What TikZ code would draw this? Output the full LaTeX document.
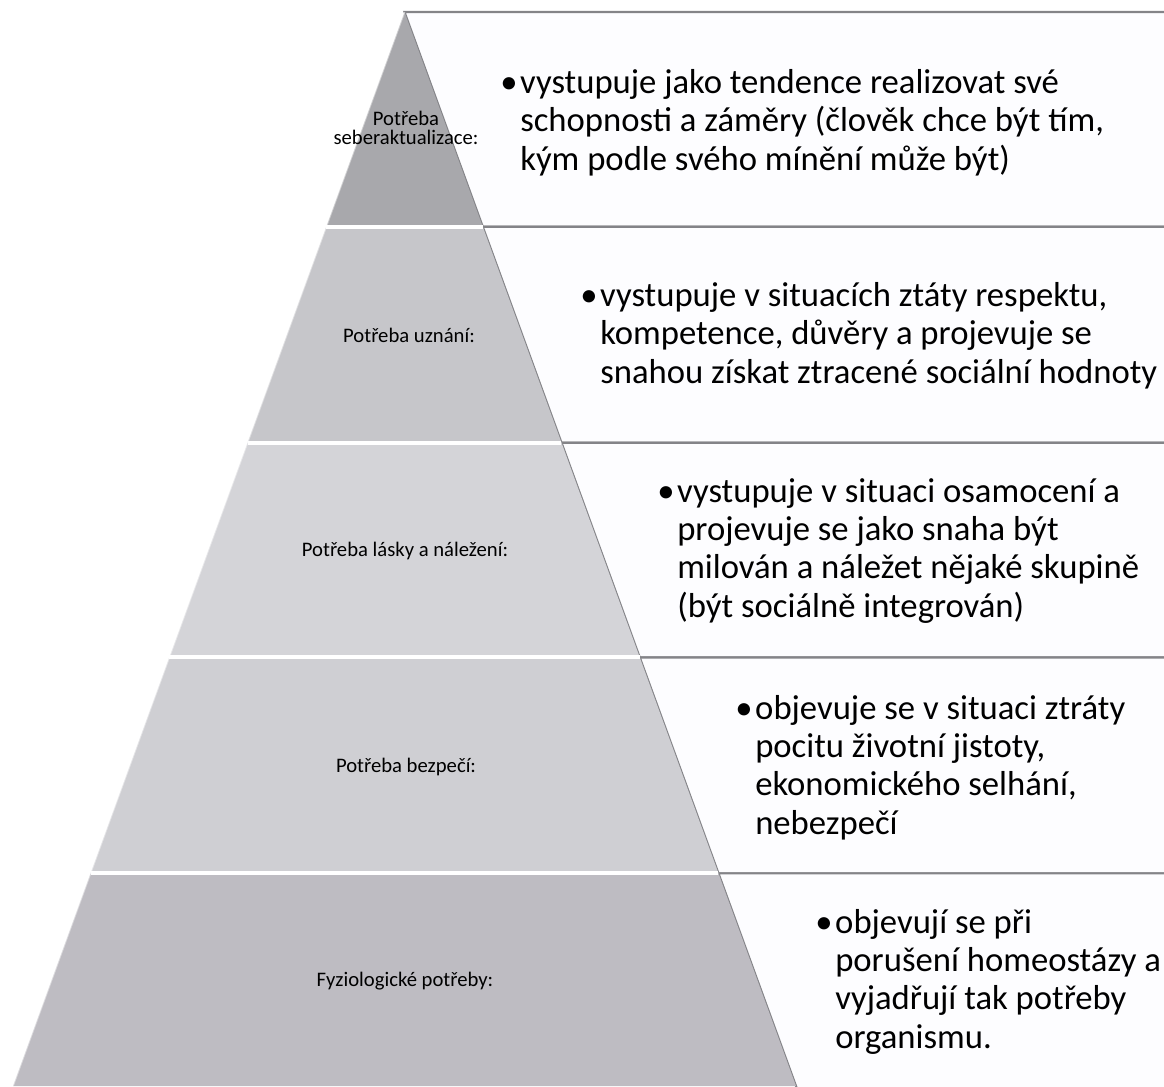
\documentclass[tikz,border=0pt]{standalone}
\usepackage{fontspec}
\setmainfont{Carlito}
\usepackage{tikz}
\usetikzlibrary{calc}
\definecolor{level-one}{RGB}{168,168,172}
\definecolor{level-two}{RGB}{198,198,202}
\definecolor{level-three}{RGB}{212,212,216}
\definecolor{level-four}{RGB}{207,207,211}
\definecolor{level-five}{RGB}{190,188,194}
\definecolor{box-line}{RGB}{132,132,136}
\definecolor{box-fill}{RGB}{253,253,255}
\tikzset{
    list-box/.style = {draw=box-line, fill=box-fill, line width=1.6pt, line join=miter},
    pyramid-gap/.style = {draw=white, line width=3pt},
    level-edge/.style = {draw=white, opacity=0.45, line width=1.2pt},
    level-label/.style = {font=\fontsize{15.5}{14.6}\selectfont, align=center, inner sep=0pt},
    list-text/.style = {font=\fontsize{26}{28.75}\selectfont, anchor=west, inner sep=0pt},
}

\begin{document}
\begin{tikzpicture}[x=0.75pt, y=-0.75pt]
\useasboundingbox (0,0) rectangle (1164,1086);
\coordinate (apex) at (404.5,12);
\coordinate (bl) at (13,1086);
\coordinate (br) at (796,1086);
\coordinate (east) at (1180,0);
\coordinate (l1) at ($(apex)!0.200!(bl)$);
\coordinate (r1) at ($(apex)!0.200!(br)$);
\coordinate (l2) at ($(apex)!0.401!(bl)$);
\coordinate (r2) at ($(apex)!0.401!(br)$);
\coordinate (l3) at ($(apex)!0.601!(bl)$);
\coordinate (r3) at ($(apex)!0.601!(br)$);
\coordinate (l4) at ($(apex)!0.802!(bl)$);
\coordinate (r4) at ($(apex)!0.802!(br)$);
\coordinate (r5) at ($(apex)!1.006!(br)$);

\draw[list-box] (apex) -- (apex -| east) -- (r1 -| east) -- (r1) -- cycle;
\draw[list-box] (r1) -- (r1 -| east) -- (r2 -| east) -- (r2) -- cycle;
\draw[list-box] (r2) -- (r2 -| east) -- (r3 -| east) -- (r3) -- cycle;
\draw[list-box] (r3) -- (r3 -| east) -- (r4 -| east) -- (r4) -- cycle;
\draw[list-box] (r4) -- (r4 -| east) -- (r5 -| east) -- (r5) -- cycle;

\fill[level-one] (apex) -- (r1) -- (l1) -- cycle;
\fill[level-two] (l1) -- (r1) -- (r2) -- (l2) -- cycle;
\fill[level-three] (l2) -- (r2) -- (r3) -- (l3) -- cycle;
\fill[level-four] (l3) -- (r3) -- (r4) -- (l4) -- cycle;
\fill[level-five] (l4) -- (r4) -- (br) -- (bl) -- cycle;
\draw[level-edge] (l1) -- (apex);
\draw[level-edge] (l2) -- (l1) -- (r1);
\draw[level-edge] (l3) -- (l2) -- (r2);
\draw[level-edge] (l4) -- (l3) -- (r3);
\draw[level-edge] (bl) -- (l4) -- (r4);
\draw[pyramid-gap] (l1) -- (r1);
\draw[pyramid-gap] (l2) -- (r2);
\draw[pyramid-gap] (l3) -- (r3);
\draw[pyramid-gap] (l4) -- (r4);

\node[level-label] (need-self) at (406,128) {Potřeba\\seberaktualizace:};
\node[level-label] (need-esteem) at (409,335) {Potřeba uznání:};
\node[level-label] (need-love) at (405,551) {Potřeba lásky a náležení:};
\node[level-label] (need-safety) at (406,767) {Potřeba bezpečí:};
\node[level-label] (need-body) at (405,981) {Fyziologické potřeby:};

\node[list-text] (text-self) at (500,124) {\begin{tabular}{@{}p{15pt}@{}l@{}}
    \textbullet & vystupuje jako tendence realizovat své\\
    & schopnosti a záměry (člověk chce být tím,\\
    & kým podle svého mínění může být)
\end{tabular}};
\node[list-text] (text-esteem) at (580,337) {\begin{tabular}{@{}p{15pt}@{}l@{}}
    \textbullet & vystupuje v situacích ztáty respektu,\\
    & kompetence, důvěry a projevuje se\\
    & snahou získat ztracené sociální hodnoty
\end{tabular}};
\node[list-text] (text-love) at (657,552) {\begin{tabular}{@{}p{15pt}@{}l@{}}
    \textbullet & vystupuje v situaci osamocení a\\
    & projevuje se jako snaha být\\
    & milován a náležet nějaké skupině\\
    & (být sociálně integrován)
\end{tabular}};
\node[list-text] (text-safety) at (735,769) {\begin{tabular}{@{}p{15pt}@{}l@{}}
    \textbullet & objevuje se v situaci ztráty\\
    & pocitu životní jistoty,\\
    & ekonomického selhání,\\
    & nebezpečí
\end{tabular}};
\node[list-text] (text-body) at (815,983) {\begin{tabular}{@{}p{15pt}@{}l@{}}
    \textbullet & objevují se při\\
    & porušení homeostázy a\\
    & vyjadřují tak potřeby\\
    & organismu.
\end{tabular}};
\end{tikzpicture}
\end{document}
